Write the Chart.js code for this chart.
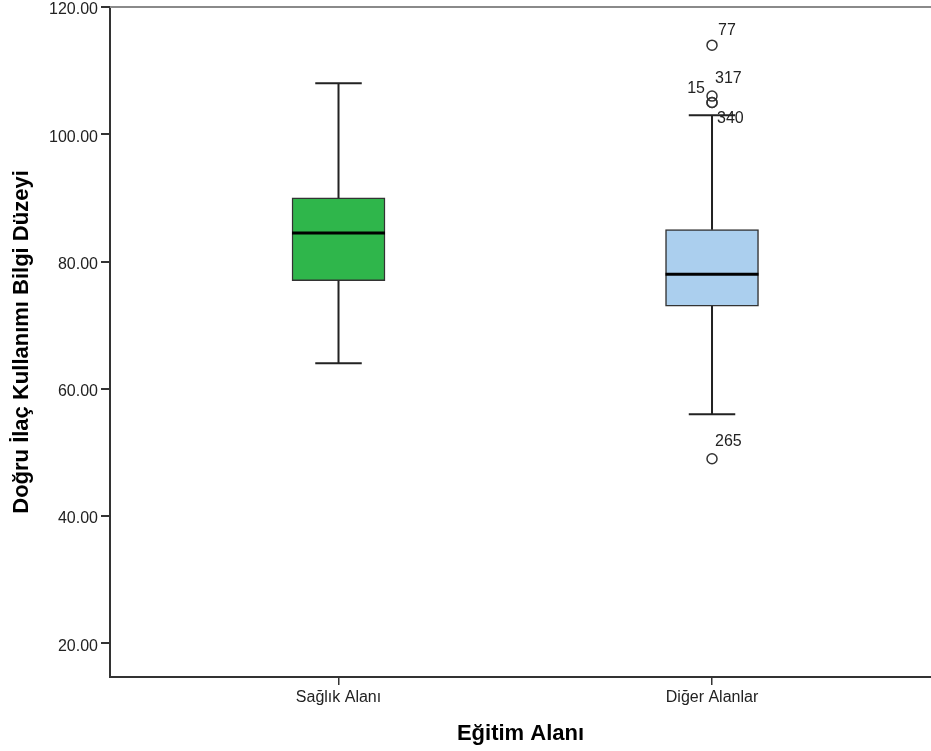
<!DOCTYPE html>
<html lang="tr">
<head>
<meta charset="utf-8">
<title>Doğru İlaç Kullanımı Bilgi Düzeyi</title>
<script src="https://cdn.jsdelivr.net/npm/chart.js@4.4.1/dist/chart.umd.min.js"></script>
<style>
    html, body { margin: 0; padding: 0; background: #ffffff; overflow: hidden; }
    #wrap { width: 931px; height: 751px; position: relative; }
</style>
</head>
<body>
<div id="wrap"><canvas id="boxChart"></canvas></div>
<script>
/* Kutu grafiği: Eğitim Alanı x Doğru İlaç Kullanımı Bilgi Düzeyi */

const categories = ['Sağlık Alanı', 'Diğer Alanlar'];
const whiskerLow = [64, 56];
const q1 = [77, 73];
const median = [84.5, 78];
const q3 = [90, 85];
const whiskerHigh = [108, 103];

// aykırı değerler (grup no, değer, vaka no)
const outlierGroup = [2, 2, 2, 2, 2];
const outlierValue = [114, 106, 105, 105, 49];
const outlierCase = ['77', '317', '15', '340', '265'];

const yTicks = [20, 40, 60, 80, 100, 120];

// etiket konumu (dx, dy, hizalama) - sadece görünüm için
const labelPlacement = [
    [6, -15, 'left'],
    [3, -17, 'left'],
    [-7, -14, 'right'],
    [5, 16, 'left'],
    [3, -17, 'left']
];

const BOX_COLORS = ['#2fb64b', '#abcfee'];
const INK = '#222222';
const FONT = '"Liberation Sans", Arial, sans-serif';

Chart.defaults.font.family = FONT;
Chart.defaults.color = INK;

const boxPlugin = {
    id: 'boxParts',
    afterDatasetsDraw(chart) {
        const ctx = chart.ctx;
        const xs = chart.scales.x;
        const ys = chart.scales.y;
        const bars = chart.getDatasetMeta(0).data;

        ctx.save();
        ctx.strokeStyle = INK;
        ctx.lineCap = 'butt';

        categories.forEach((cat, i) => {
            const cx = xs.getPixelForValue(i + 1);
            const w = bars[i] ? bars[i].width : 93;
            const cap = w / 4;

            ctx.lineWidth = 2;
            ctx.beginPath();
            ctx.moveTo(cx, ys.getPixelForValue(q3[i]));
            ctx.lineTo(cx, ys.getPixelForValue(whiskerHigh[i]));
            ctx.moveTo(cx, ys.getPixelForValue(q1[i]));
            ctx.lineTo(cx, ys.getPixelForValue(whiskerLow[i]));
            ctx.moveTo(cx - cap, ys.getPixelForValue(whiskerHigh[i]));
            ctx.lineTo(cx + cap, ys.getPixelForValue(whiskerHigh[i]));
            ctx.moveTo(cx - cap, ys.getPixelForValue(whiskerLow[i]));
            ctx.lineTo(cx + cap, ys.getPixelForValue(whiskerLow[i]));
            ctx.stroke();

            ctx.lineWidth = 3;
            ctx.strokeStyle = '#000000';
            ctx.beginPath();
            ctx.moveTo(cx - w / 2, ys.getPixelForValue(median[i]));
            ctx.lineTo(cx + w / 2, ys.getPixelForValue(median[i]));
            ctx.stroke();
            ctx.strokeStyle = INK;
        });

        // vaka numaraları
        ctx.fillStyle = INK;
        ctx.font = '16px ' + FONT;
        ctx.textBaseline = 'middle';
        outlierCase.forEach((label, k) => {
            const px = xs.getPixelForValue(outlierGroup[k]);
            const py = ys.getPixelForValue(outlierValue[k]);
            const [dx, dy, align] = labelPlacement[k];
            ctx.textAlign = align;
            ctx.fillText(label, px + dx, py + dy);
        });

        // üst çerçeve çizgisi
        const area = chart.chartArea;
        ctx.strokeStyle = '#8a8a8a';
        ctx.lineWidth = 2;
        ctx.beginPath();
        ctx.moveTo(area.left, area.top);
        ctx.lineTo(chart.width, area.top);
        ctx.stroke();
        ctx.restore();
    }
};

new Chart(document.getElementById('boxChart').getContext('2d'), {
    type: 'bar',
    data: {
        datasets: [
            {
                label: 'Kutu',
                data: categories.map((c, i) => ({ x: i + 1, y: [q1[i], q3[i]] })),
                backgroundColor: BOX_COLORS,
                borderColor: '#333333',
                borderWidth: 1.5,
                borderSkipped: false,
                barThickness: 93,
                order: 2
            },
            {
                type: 'scatter',
                label: 'Aykırı',
                data: outlierValue.map((v, k) => ({ x: outlierGroup[k], y: v })),
                pointStyle: 'circle',
                pointRadius: 5,
                pointBorderWidth: 1.5,
                pointBorderColor: '#333333',
                pointBackgroundColor: 'rgba(0,0,0,0)',
                order: 1
            }
        ]
    },
    options: {
        responsive: true,
        maintainAspectRatio: false,
        animation: false,
        layout: {
            autoPadding: false,
            padding: { top: 7, left: 0, right: 0, bottom: 0 }
        },
        plugins: {
            legend: { display: false },
            tooltip: { enabled: false }
        },
        scales: {
            x: {
                type: 'linear',
                offset: false,
                min: 0.3882,
                max: 2.5863,
                afterBuildTicks: scale => {
                    scale.ticks = categories.map((c, i) => ({ value: i + 1 }));
                },
                afterFit: scale => {
                    scale.height = 74;
                    scale.paddingLeft = 0;
                    scale.paddingRight = 0;
                },
                grid: {
                    offset: false,
                    drawOnChartArea: false,
                    drawTicks: true,
                    tickLength: 8,
                    color: '#333333',
                    lineWidth: 1.5
                },
                border: { display: true, color: '#333333', width: 2 },
                ticks: {
                    color: INK,
                    font: { size: 16 },
                    padding: 3,
                    maxRotation: 0,
                    autoSkip: false,
                    callback: value => categories[value - 1] || ''
                },
                title: {
                    display: true,
                    text: 'Eğitim Alanı',
                    color: '#000000',
                    font: { size: 22, weight: 'bold' },
                    padding: { top: 0, bottom: 4 }
                }
            },
            y: {
                min: 14.7,
                max: 120,
                afterBuildTicks: scale => {
                    scale.ticks = yTicks.map(v => ({ value: v }));
                },
                afterFit: scale => {
                    scale.width = 110;
                    scale.paddingTop = 0;
                    scale.paddingBottom = 0;
                },
                grid: {
                    drawOnChartArea: false,
                    drawTicks: true,
                    tickLength: 9,
                    color: '#333333',
                    lineWidth: 2
                },
                border: { display: true, color: '#333333', width: 2 },
                ticks: {
                    color: INK,
                    font: { size: 16 },
                    padding: 3,
                    labelOffset: 3,
                    callback: value => Number(value).toFixed(2)
                },
                title: {
                    display: true,
                    text: 'Doğru İlaç Kullanımı Bilgi Düzeyi',
                    color: '#000000',
                    font: { size: 22, weight: 'bold' },
                    padding: { top: 9, bottom: 0 }
                }
            }
        }
    },
    plugins: [boxPlugin]
});
</script>
</body>
</html>
